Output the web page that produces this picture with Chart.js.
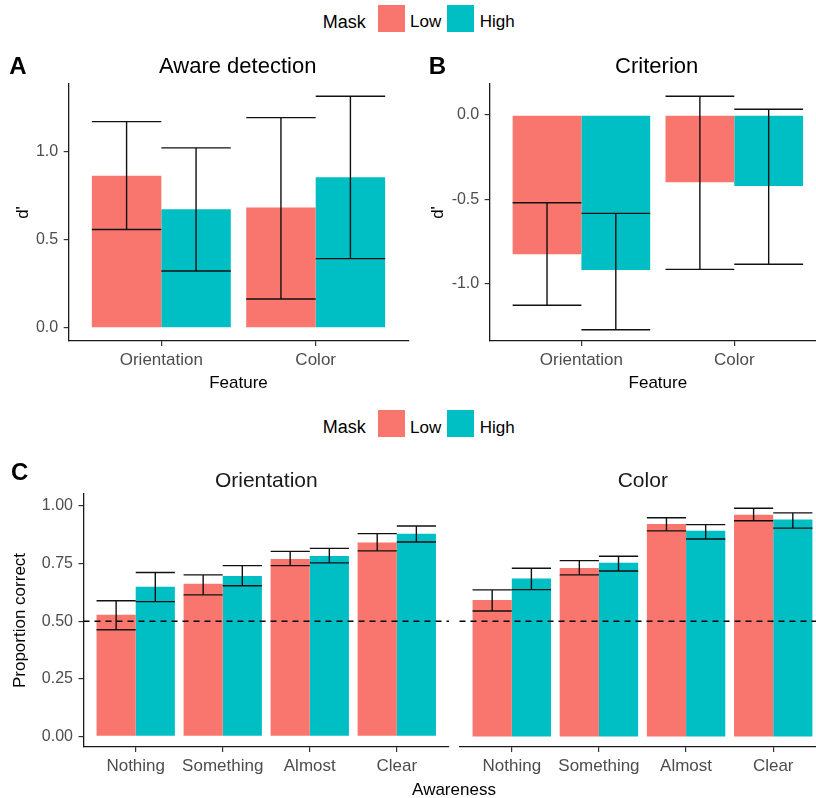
<!DOCTYPE html>
<html>
<head>
<meta charset="utf-8">
<script src="https://cdn.jsdelivr.net/npm/chart.js@4.4.0/dist/chart.umd.min.js"></script>
<style>
  body { margin: 0; background: #fff; }
  #page { position: relative; width: 816px; height: 798px; overflow: hidden; background: #fff;
          font-family: "Liberation Sans", Arial, sans-serif; }
  #page canvas { position: absolute; }
  .txt { position: absolute; line-height: 1; white-space: nowrap; color: #000; }
  .key { position: absolute; width: 27px; height: 27px; }
</style>
</head>
<body>
<div id="page">
  <canvas id="chartA" width="412" height="360" style="left:0px;top:40px"></canvas>
  <canvas id="chartB" width="420" height="360" style="left:420px;top:40px"></canvas>
  <canvas id="chartOri" width="452" height="358" style="left:0px;top:440px"></canvas>
  <canvas id="chartCol" width="390" height="358" style="left:452px;top:440px"></canvas>
</div>
<script>
// data
const featureCats = ['Orientation', 'Color'];
const awareCats = ['Nothing', 'Something', 'Almost', 'Clear'];
const maskLabels = ['Low', 'High'];
const lowColor = '#F8766D';
const highColor = '#00BFC4';

// A - aware detection (d')
const detectLow = [0.865, 0.684];
const detectLowLo = [0.559, 0.165];
const detectLowHi = [1.172, 1.195];
const detectHigh = [0.674, 0.856];
const detectHighLo = [0.324, 0.394];
const detectHighHi = [1.023, 1.316];

// B - criterion
const critLow = [-0.826, -0.399];
const critLowLo = [-1.128, -0.915];
const critLowHi = [-0.520, 0.111];
const critHigh = [-0.919, -0.421];
const critHighLo = [-1.273, -0.885];
const critHighHi = [-0.583, 0.034];

// C - proportion correct by awareness
const oriLow = [0.528, 0.662, 0.770, 0.841];
const oriLowLo = [0.463, 0.614, 0.741, 0.805];
const oriLowHi = [0.589, 0.701, 0.803, 0.880];
const oriHigh = [0.649, 0.696, 0.783, 0.880];
const oriHighLo = [0.585, 0.654, 0.753, 0.844];
const oriHighHi = [0.711, 0.741, 0.816, 0.913];

const colLow = [0.592, 0.731, 0.922, 0.962];
const colLowLo = [0.544, 0.701, 0.892, 0.936];
const colLowHi = [0.636, 0.763, 0.949, 0.990];
const colHigh = [0.685, 0.754, 0.893, 0.941];
const colHighLo = [0.637, 0.718, 0.857, 0.904];
const colHighHi = [0.730, 0.782, 0.919, 0.970];

const ticksA = [0, 0.5, 1];
const ticksB = [-1, -0.5, 0];
const ticksC = [0, 0.25, 0.5, 0.75, 1];
const chanceLevel = 0.5;

Chart.defaults.font.family = '"Liberation Sans", Arial, sans-serif';
Chart.defaults.color = '#4D4D4D';

const errorBars = {
    id: 'errorBars',
    afterDatasetsDraw(chart) {
        const ctx = chart.ctx;
        const y = chart.scales.y;
        ctx.save();
        ctx.strokeStyle = '#111';
        ctx.lineWidth = 1.4;
        chart.data.datasets.forEach((ds, i) => {
            chart.getDatasetMeta(i).data.forEach((bar, j) => {
                const top = y.getPixelForValue(ds.errHi[j]);
                const bot = y.getPixelForValue(ds.errLo[j]);
                const half = bar.width / 2;
                ctx.beginPath();
                ctx.moveTo(bar.x - half, top); ctx.lineTo(bar.x + half, top);
                ctx.moveTo(bar.x, top); ctx.lineTo(bar.x, bot);
                ctx.moveTo(bar.x - half, bot); ctx.lineTo(bar.x + half, bot);
                ctx.stroke();
            });
        });
        ctx.restore();
    }
};

const chanceLine = {
    id: 'chanceLine',
    afterDatasetsDraw(chart, args, opts) {
        if (opts.value == null) return;
        const ctx = chart.ctx;
        const area = chart.chartArea;
        const py = chart.scales.y.getPixelForValue(opts.value);
        ctx.save();
        ctx.strokeStyle = '#000';
        ctx.lineWidth = 1.6;
        ctx.setLineDash([6, 5]);
        ctx.beginPath();
        ctx.moveTo(area.left, py);
        ctx.lineTo(area.right, py);
        ctx.stroke();
        ctx.restore();
    }
};

function makePanel(id, cats, low, lowLo, lowHi, high, highLo, highHi, o) {
    const toPoints = vals => cats.map((c, i) => ({x: i + 1, y: vals[i]}));
    const axisGrid = {display: true, drawOnChartArea: false, drawTicks: true, tickLength: 5,
                      color: '#333', lineWidth: 1.2, offset: false};
    const axisBorder = {display: true, color: '#1a1a1a', width: 1.3};
    return new Chart(document.getElementById(id), {
        type: 'bar',
        data: {
            datasets: [
                {label: maskLabels[0], data: toPoints(low), backgroundColor: lowColor, borderWidth: 0,
                 errLo: lowLo, errHi: lowHi, categoryPercentage: 0.9, barPercentage: 1},
                {label: maskLabels[1], data: toPoints(high), backgroundColor: highColor, borderWidth: 0,
                 errLo: highLo, errHi: highHi, categoryPercentage: 0.9, barPercentage: 1}
            ]
        },
        options: {
            responsive: false,
            animation: false,
            devicePixelRatio: 1,
            layout: {padding: o.padding},
            plugins: {
                legend: {display: false},
                tooltip: {enabled: false},
                chanceLine: {value: o.chance}
            },
            scales: {
                x: {
                    type: 'linear', min: 0.4, max: cats.length + 0.6, offset: false,
                    afterBuildTicks: s => { s.ticks = cats.map((c, i) => ({value: i + 1})); },
                    afterFit: s => { s.height = o.xH; },
                    ticks: {autoSkip: false, maxRotation: 0, padding: 4, color: '#4D4D4D',
                            font: {size: 17}, callback: v => cats[v - 1]},
                    grid: axisGrid,
                    border: axisBorder,
                    title: {display: !!o.xTitle, text: o.xTitle, color: '#000', font: {size: 17},
                            padding: {top: 0, bottom: o.xTitlePad}}
                },
                y: {
                    display: o.yShow,
                    min: o.yMin, max: o.yMax,
                    afterBuildTicks: s => { s.ticks = o.yTicks.map(v => ({value: v})); },
                    afterFit: s => { s.width = o.yW; },
                    ticks: {padding: 5.5, color: '#4D4D4D', font: {size: 16},
                            callback: v => v.toFixed(o.dec)},
                    grid: axisGrid,
                    border: axisBorder,
                    title: {display: !!o.yTitle, text: o.yTitle, color: '#000', font: {size: 17},
                            padding: {top: o.yTitlePad, bottom: 0}}
                }
            }
        },
        plugins: [errorBars, chanceLine]
    });
}

makePanel('chartA', featureCats, detectLow, detectLowLo, detectLowHi, detectHigh, detectHighLo, detectHighHi, {
    padding: {left: 3.7, top: 44, right: 3.7, bottom: 4},
    yW: 65, xH: 55, yMin: -0.074, yMax: 1.386, yTicks: ticksA, dec: 1, yShow: true,
    yTitle: "d'", yTitlePad: 9.1, xTitle: 'Feature', xTitlePad: 2, chance: null
});

makePanel('chartB', featureCats, critLow, critLowLo, critLowHi, critHigh, critHighLo, critHighHi, {
    padding: {left: 4.7, top: 44, right: 14, bottom: 4},
    yW: 65, xH: 55, yMin: -1.340, yMax: 0.184, yTicks: ticksB, dec: 1, yShow: true,
    yTitle: "d'", yTitlePad: 3.6, xTitle: 'Feature', xTitlePad: 2, chance: null
});

makePanel('chartOri', awareCats, oriLow, oriLowLo, oriLowHi, oriHigh, oriHighLo, oriHighHi, {
    padding: {left: 8.5, top: 54, right: 3, bottom: 11},
    yW: 75, xH: 40, yMin: -0.046, yMax: 1.052, yTicks: ticksC, dec: 2, yShow: true,
    yTitle: 'Proportion correct', yTitlePad: 2.1, xTitle: '', xTitlePad: 0, chance: chanceLevel
});

makePanel('chartCol', awareCats, colLow, colLowLo, colLowHi, colHigh, colHighLo, colHighHi, {
    padding: {left: 7.5, top: 54, right: 16.5, bottom: 11},
    yW: 0, xH: 40, yMin: -0.046, yMax: 1.052, yTicks: ticksC, dec: 2, yShow: false,
    yTitle: '', yTitlePad: 0, xTitle: '', xTitlePad: 0, chance: chanceLevel
});

// text outside the plots: panel letters, titles, legends, shared x title
const page = document.getElementById('page');
function addText(text, x, baseline, size, opts = {}) {
    const d = document.createElement('div');
    d.className = 'txt';
    d.textContent = text;
    d.style.fontSize = size + 'px';
    d.style.top = (baseline - 0.8465 * size) + 'px';
    d.style.left = x + 'px';
    if (opts.center) d.style.transform = 'translateX(-50%)';
    if (opts.bold) d.style.fontWeight = 'bold';
    if (opts.color) d.style.color = opts.color;
    page.appendChild(d);
}
function addKey(color, x, y) {
    const k = document.createElement('div');
    k.className = 'key';
    k.style.left = x + 'px';
    k.style.top = y + 'px';
    k.style.background = color;
    page.appendChild(k);
}
function addLegend(dy) {
    addText('Mask', 322.7, 28 + dy, 18);
    addKey(lowColor, 377.5, 4.5 + dy);
    addText(maskLabels[0], 410, 27.5 + dy, 17);
    addKey(highColor, 447, 4.5 + dy);
    addText(maskLabels[1], 479.7, 27.5 + dy, 17);
}

addLegend(0);
addLegend(405.5);

addText('A', 9.3, 74, 24, {bold: true});
addText('Aware detection', 237.7, 74, 22, {center: true});
addText('B', 428.7, 74, 24, {bold: true});
addText('Criterion', 656.7, 74, 22, {center: true});
addText('C', 11, 480, 24, {bold: true});
addText('Orientation', 266.3, 487, 21, {center: true, color: '#1a1a1a'});
addText('Color', 642.8, 487, 21, {center: true, color: '#1a1a1a'});
addText('Awareness', 454, 795, 17, {center: true});
</script>
</body>
</html>
